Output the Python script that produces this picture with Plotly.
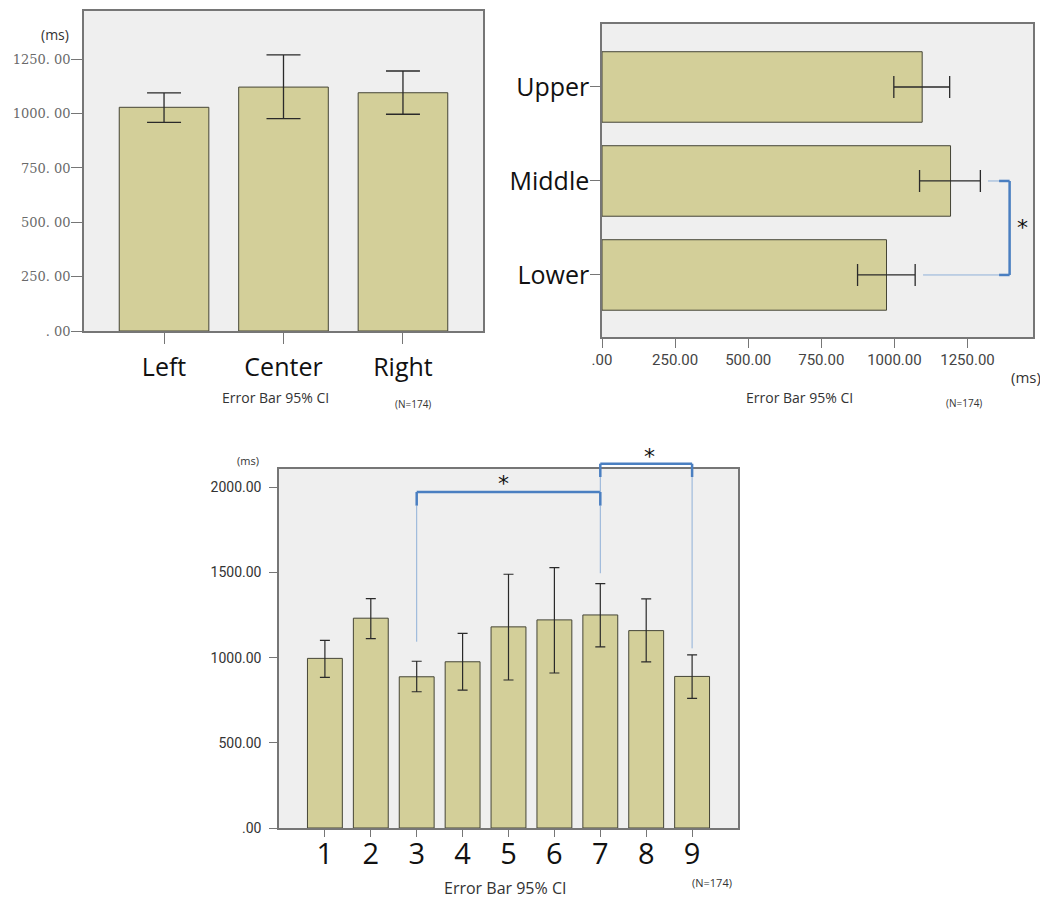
import plotly.graph_objects as go

# ---------------- data ----------------
# Panel A: horizontal position
pos_cats = ["Left", "Center", "Right"]
pos_mean = [1029, 1122, 1096]
pos_lo = [960, 977, 997]
pos_hi = [1095, 1270, 1196]
pos_tickvals = [0, 250, 500, 750, 1000, 1250]
pos_ticktext = [". 00", "250. 00", "500. 00", "750. 00", "1000. 00", "1250. 00"]

# Panel B: vertical position
vert_cats = ["Lower", "Middle", "Upper"]
vert_mean = [973, 1192, 1095]
vert_lo = [874, 1086, 998]
vert_hi = [1071, 1294, 1189]
vert_tickvals = [0, 250, 500, 750, 1000, 1250]
vert_ticktext = [".00", "250.00", "500.00", "750.00", "1000.00", "1250.00"]

# Panel C: nine locations
loc_cats = ["1", "2", "3", "4", "5", "6", "7", "8", "9"]
loc_mean = [996, 1232, 888, 976, 1181, 1222, 1251, 1159, 890]
loc_lo = [885, 1112, 800, 810, 869, 910, 1063, 975, 761]
loc_hi = [1102, 1347, 979, 1143, 1490, 1529, 1435, 1345, 1016]
loc_tickvals = [0, 500, 1000, 1500, 2000]
loc_ticktext = [".00", "500.00", "1000.00", "1500.00", "2000.00"]

# significance brackets (value levels)
B_pair = ("Middle", "Lower")
B_thin_start = [1320, 1098]
B_cap_x = 1358
B_bar_x = 1394
B_star = (1437, 0.55)

C1_pair = ("3", "7")
C1_top, C1_cap = 1973, 1893
C1_thin_bottom = [1094, 1496]
C1_star = (3.9, 2049)
C2_pair = ("7", "9")
C2_top, C2_cap = 2139, 2061
C2_thin_bottom = [1973, 1055]
C2_star = (7.08, 2202)

YMAX_A, XMAX_B, YMAX_C = 1472, 1474, 2108

# ---------------- styles ----------------
BAR = "#d3cf99"
BAR_LINE = "#454536"
BG = "#efefef"
FRAME = "#767676"
ERR = "#2a2a2a"
BLUE = "#4a7fc1"
THIN = "#8fb0d8"
CAT_FONT = dict(family="Open Sans", size=25, color="#111111")

fig = go.Figure()

fig.add_trace(go.Bar(
    x=pos_cats, y=pos_mean, xaxis="x", yaxis="y", width=0.75,
    marker=dict(color=BAR, line=dict(color=BAR_LINE, width=1)),
    error_y=dict(type="data", symmetric=False,
                 array=[h - m for h, m in zip(pos_hi, pos_mean)],
                 arrayminus=[m - l for l, m in zip(pos_lo, pos_mean)],
                 color=ERR, thickness=1.3, width=17),
    showlegend=False, hoverinfo="skip"))

fig.add_trace(go.Bar(
    y=vert_cats, x=vert_mean, orientation="h", xaxis="x2", yaxis="y2", width=0.75,
    marker=dict(color=BAR, line=dict(color=BAR_LINE, width=1)),
    error_x=dict(type="data", symmetric=False,
                 array=[h - m for h, m in zip(vert_hi, vert_mean)],
                 arrayminus=[m - l for l, m in zip(vert_lo, vert_mean)],
                 color=ERR, thickness=1.3, width=11),
    showlegend=False, hoverinfo="skip"))

fig.add_trace(go.Bar(
    x=loc_cats, y=loc_mean, xaxis="x3", yaxis="y3", width=0.76,
    marker=dict(color=BAR, line=dict(color=BAR_LINE, width=1)),
    error_y=dict(type="data", symmetric=False,
                 array=[h - m for h, m in zip(loc_hi, loc_mean)],
                 arrayminus=[m - l for l, m in zip(loc_lo, loc_mean)],
                 color=ERR, thickness=1.2, width=5),
    showlegend=False, hoverinfo="skip"))

axis_common = dict(showline=True, mirror=True, linecolor=FRAME, linewidth=1.5,
                   showgrid=False, zeroline=False, ticks="outside", tickcolor=FRAME,
                   automargin=False)

# the page body adds an 8px margin, so the figure is drawn 8px smaller and positions
# below are given in window pixels and shifted back by OFF
OFF = 8
W, H = 1048 - OFF, 898 - OFF

def dom_x(a, b):
    return [(a - OFF) / W, (b - OFF) / W]

def dom_y(top, bottom):
    return [1 - (bottom - OFF) / H, 1 - (top - OFF) / H]

fig.update_layout(
    width=W, height=H, autosize=False,
    margin=dict(l=0, r=0, t=0, b=0),
    paper_bgcolor="white", plot_bgcolor=BG,
    xaxis=dict(axis_common, domain=dom_x(84, 483), anchor="y", type="category",
               categoryorder="array", categoryarray=pos_cats,
               range=[-0.67, 2.67], ticklen=11, tickfont=CAT_FONT, ticklabelstandoff=2),
    yaxis=dict(axis_common, domain=dom_y(11, 331), anchor="x",
               range=[0, YMAX_A], tickvals=pos_tickvals, ticktext=pos_ticktext, ticklen=11,
               tickfont=dict(family="DejaVu Serif", size=13, color="#6a6a6a"),
               ticklabelstandoff=-2),
    xaxis2=dict(axis_common, domain=dom_x(602, 1033), anchor="y2",
                range=[0, XMAX_B], tickvals=vert_tickvals, ticktext=vert_ticktext, ticklen=9,
                tickfont=dict(family="Roboto", size=15, color="#444444"), ticklabelstandoff=-1),
    yaxis2=dict(axis_common, domain=dom_y(24, 337), anchor="x2", type="category",
                categoryorder="array", categoryarray=vert_cats,
                range=[-0.66, 2.67], ticklen=10, tickfont=CAT_FONT, ticklabelstandoff=-4),
    xaxis3=dict(axis_common, domain=dom_x(279, 738), anchor="y3", type="category",
                categoryorder="array", categoryarray=loc_cats,
                range=[-1.0, 9.0], ticklen=7,
                tickfont=dict(family="Open Sans", size=29, color="#111111"), ticklabelstandoff=-8),
    yaxis3=dict(axis_common, domain=dom_y(469, 828), anchor="x3",
                range=[0, YMAX_C], tickvals=loc_tickvals, ticktext=loc_ticktext, ticklen=8,
                tickfont=dict(family="Roboto", size=14, color="#333333"), ticklabelstandoff=5),
)

shapes = []
# Panel B bracket
for cat, xs in zip(B_pair, B_thin_start):
    shapes.append(dict(type="line", xref="x2", yref="y2", x0=xs, x1=B_cap_x, y0=cat, y1=cat,
                       line=dict(color=THIN, width=1)))
for cat in B_pair:
    shapes.append(dict(type="line", xref="x2", yref="y2", x0=B_cap_x, x1=B_bar_x, y0=cat, y1=cat,
                       line=dict(color=BLUE, width=2.5)))
shapes.append(dict(type="line", xref="x2", yref="y2", x0=B_bar_x, x1=B_bar_x,
                   y0=B_pair[0], y1=B_pair[1], line=dict(color=BLUE, width=2.5)))

# Panel C: category index positions (numeric-looking category names need indices)
c1_idx = [loc_cats.index(c) for c in C1_pair]
c2_idx = [loc_cats.index(c) for c in C2_pair]

# bracket 1 (3 vs 7)
for xi, yb in zip(c1_idx, C1_thin_bottom):
    shapes.append(dict(type="line", xref="x3", yref="y3", x0=xi, x1=xi, y0=yb, y1=C1_cap,
                       line=dict(color=THIN, width=1)))
    shapes.append(dict(type="line", xref="x3", yref="y3", x0=xi, x1=xi, y0=C1_cap, y1=C1_top,
                       line=dict(color=BLUE, width=2.5)))
shapes.append(dict(type="line", xref="x3", yref="y3", x0=c1_idx[0], x1=c1_idx[1],
                   y0=C1_top, y1=C1_top, line=dict(color=BLUE, width=2.5)))

# bracket 2 (7 vs 9) - reaches above the plot, so use domain fractions
for xi, yb in zip(c2_idx, C2_thin_bottom):
    shapes.append(dict(type="line", xref="x3", yref="y3 domain", x0=xi, x1=xi,
                       y0=yb / YMAX_C, y1=C2_cap / YMAX_C, line=dict(color=THIN, width=1)))
    shapes.append(dict(type="line", xref="x3", yref="y3 domain", x0=xi, x1=xi,
                       y0=C2_cap / YMAX_C, y1=C2_top / YMAX_C, line=dict(color=BLUE, width=2.5)))
shapes.append(dict(type="line", xref="x3", yref="y3 domain", x0=c2_idx[0], x1=c2_idx[1],
                   y0=C2_top / YMAX_C, y1=C2_top / YMAX_C, line=dict(color=BLUE, width=2.5)))
fig.update_layout(shapes=shapes)

ann = []
def paper_text(txt, px, py, size, color="#333333", family="Open Sans"):
    ann.append(dict(text=txt, xref="paper", yref="paper", x=(px - OFF) / W, y=1 - (py - OFF) / H,
                    xanchor="center", yanchor="middle", showarrow=False,
                    font=dict(family=family, size=size, color=color)))

paper_text("(ms)", 55, 34, 14)
paper_text("Error Bar 95% CI", 275, 398, 14)
paper_text("(N=174)", 413, 404, 10)
paper_text("(ms)", 1026, 377, 15)
paper_text("Error Bar 95% CI", 799, 398, 14)
paper_text("(N=174)", 964, 403, 10)
paper_text("(ms)", 248, 460, 11)
paper_text("Error Bar 95% CI", 505, 888, 16)
paper_text("(N=174)", 712, 882, 11)

star_font = dict(family="DejaVu Sans", size=22, color="#111111")
ann.append(dict(text="*", xref="x2", yref="y2", x=B_star[0], y=B_star[1], showarrow=False,
                xanchor="center", yanchor="middle", font=star_font, yshift=-4))
ann.append(dict(text="*", xref="x3", yref="y3", x=C1_star[0], y=C1_star[1], showarrow=False,
                xanchor="center", yanchor="middle", font=star_font, yshift=-4))
ann.append(dict(text="*", xref="x3", yref="y3 domain", x=C2_star[0], y=C2_star[1] / YMAX_C,
                showarrow=False, xanchor="center", yanchor="middle", font=star_font, yshift=-4))
fig.update_layout(annotations=ann)

fig.write_html("out.html")
